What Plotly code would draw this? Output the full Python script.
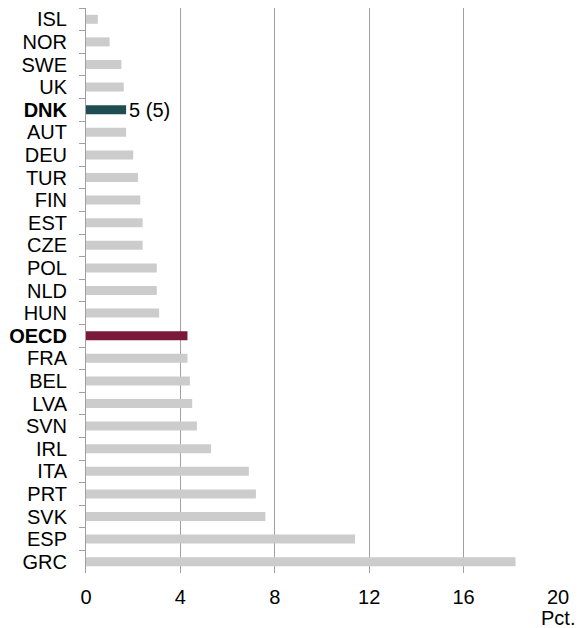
import plotly.graph_objects as go

# Countries from top to bottom, with the share in per cent
countries = ["ISL", "NOR", "SWE", "UK", "DNK", "AUT", "DEU", "TUR", "FIN", "EST",
             "CZE", "POL", "NLD", "HUN", "OECD", "FRA", "BEL", "LVA", "SVN", "IRL",
             "ITA", "PRT", "SVK", "ESP", "GRC"]
values = [0.5, 1.0, 1.5, 1.6, 1.7, 1.7, 2.0, 2.2, 2.3, 2.4,
          2.4, 3.0, 3.0, 3.1, 4.3, 4.3, 4.4, 4.5, 4.7, 5.3,
          6.9, 7.2, 7.6, 11.4, 18.2]
x_ticks = [0, 4, 8, 12, 16, 20]
unit_label = "Pct."
highlight = {"DNK": "#1e4d52", "OECD": "#7a1a3a"}
rank_labels = {"DNK": "5 (5)"}

FONT = "Arial, Liberation Sans, sans-serif"
BASE = "#cccccc"
GRID = "#a0a0a0"

labels = [f"<b>{c}</b>" if c in highlight else c for c in countries]
colors = [highlight.get(c, BASE) for c in countries]
texts = [rank_labels.get(c, "") for c in countries]

fig = go.Figure(go.Bar(
    x=values,
    y=labels,
    orientation="h",
    marker=dict(color=colors, line=dict(width=0)),
    text=texts,
    textposition="outside",
    textfont=dict(family=FONT, size=20, color="#000000"),
    constraintext="none",
    cliponaxis=False,
    hoverinfo="skip",
))

fig.update_layout(
    width=584,
    height=628,
    margin=dict(l=86, r=26, t=8, b=55),
    paper_bgcolor="white",
    plot_bgcolor="white",
    bargap=0.6,
    showlegend=False,
    font=dict(family=FONT, size=20, color="#000000"),
    xaxis=dict(
        range=[0, 20],
        tickvals=x_ticks,
        showgrid=True,
        gridcolor=GRID,
        gridwidth=1,
        zeroline=False,
        showline=False,
        ticks="",
        ticklabelstandoff=10,
        tickfont=dict(family=FONT, size=20, color="#000000"),
    ),
    yaxis=dict(
        type="category",
        categoryorder="array",
        categoryarray=labels,
        autorange="reversed",
        tickmode="linear",
        tick0=0,
        dtick=1,
        tickson="boundaries",
        ticks="outside",
        ticklen=6,
        tickcolor=GRID,
        showgrid=False,
        showline=True,
        linecolor=GRID,
        linewidth=1,
        ticklabelstandoff=14,
        tickfont=dict(family=FONT, size=20, color="#000000"),
    ),
    annotations=[dict(
        x=20, xref="x", y=0, yref="paper",
        text=unit_label, showarrow=False,
        xanchor="center", yanchor="top", yshift=-32,
        font=dict(family=FONT, size=20, color="#000000"),
    )],
)

fig.write_html("out.html")
